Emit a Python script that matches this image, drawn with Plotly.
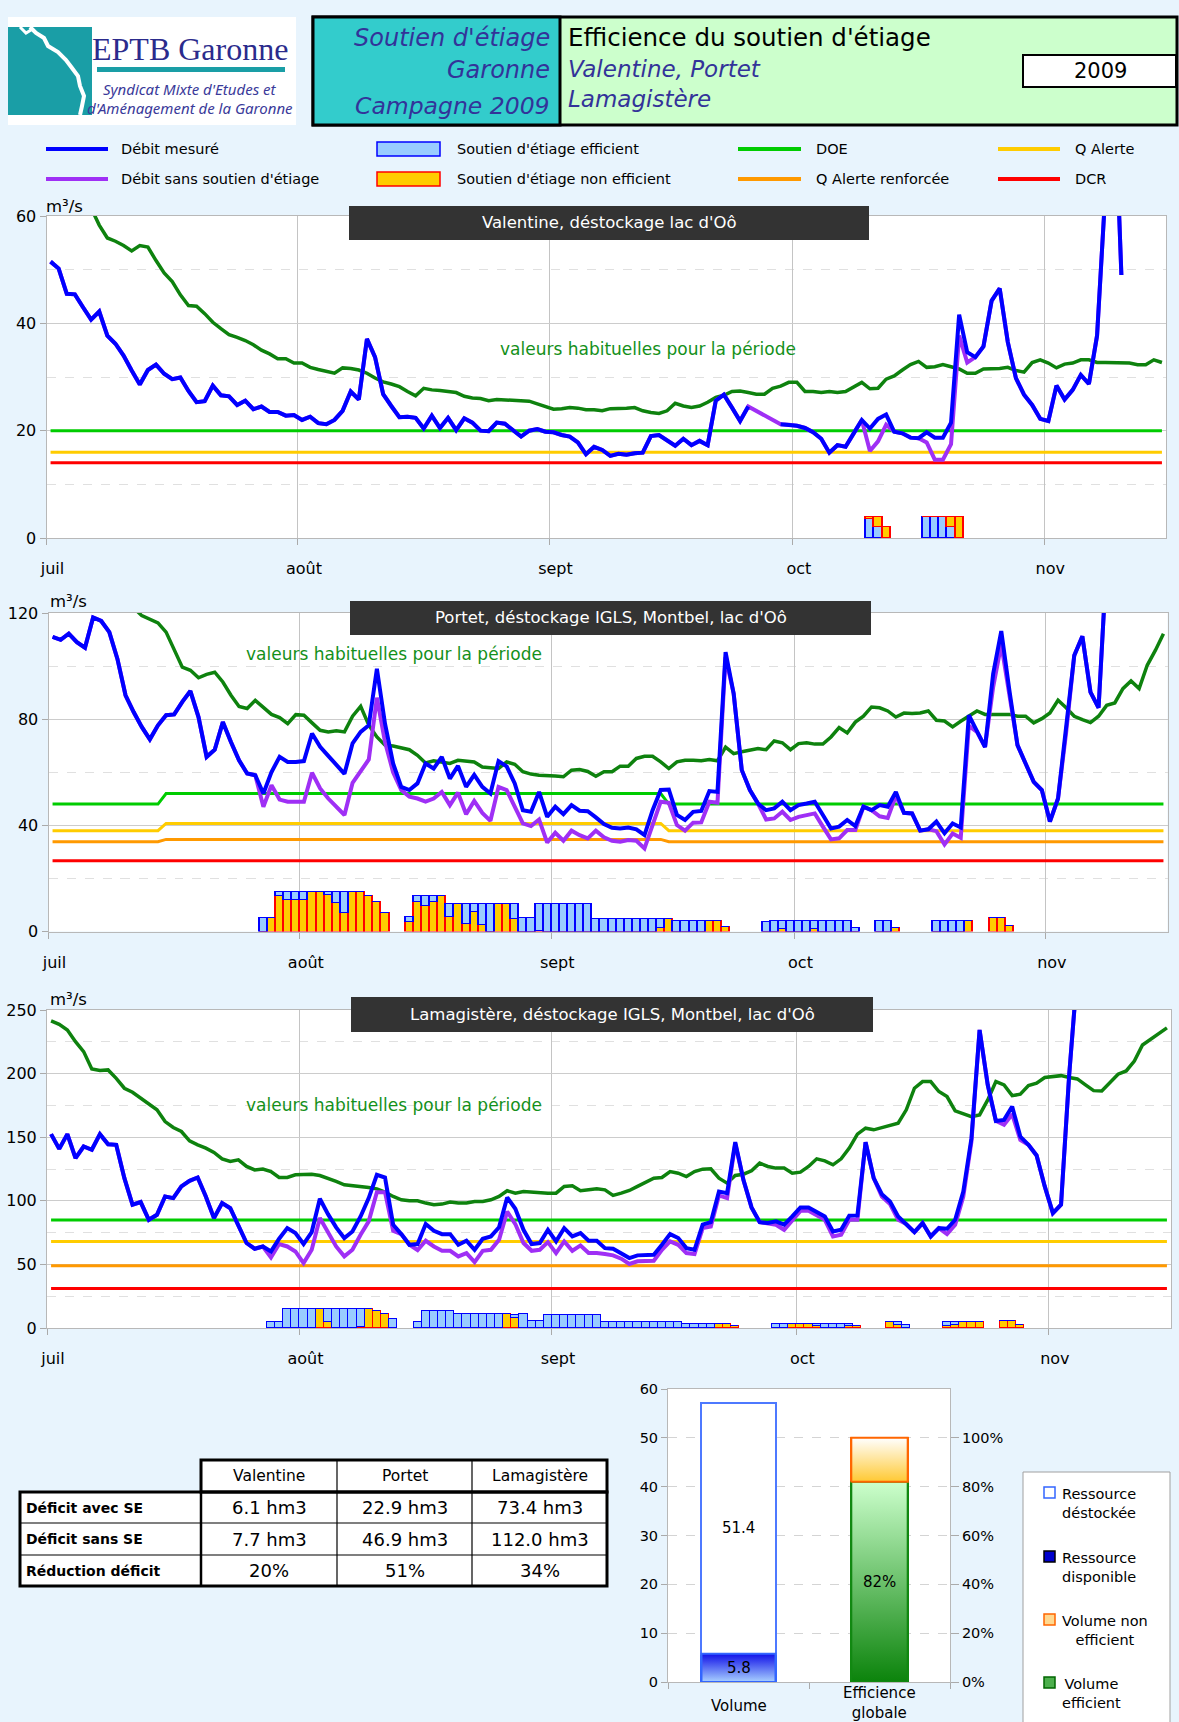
import plotly.graph_objects as go

W, H = 1179, 1722
FONT = "DejaVu Sans"
FONT2 = "Noto Sans"
BG = "#e8f4fd"


def X(p):
    return p / W


def Y(p):
    return 1 - p / H


MONTHS = ["juil", "août", "sept", "oct", "nov"]
MONTH_FIRST_DAY = [0, 31, 62, 92, 123]
N_DAYS = 138

# ---------------- Valentine (m3/s), day 0 = 1 July ----------------
V_MEAS = [51.5, 50.2, 45.5, 45.4, 43.0, 40.7, 42.2, 37.7, 36.2, 34.0,
          31.2, 28.6, 31.3, 32.3, 30.6, 29.6, 29.9, 27.4, 25.3, 25.5,
          28.4, 26.6, 26.4, 24.8, 25.6, 24.0, 24.5, 23.5, 23.5, 22.8,
          22.9, 22.0, 22.6, 21.4, 21.2, 22.0, 23.7, 27.3, 25.8, 37.1,
          33.7, 26.8, 24.6, 22.5, 22.6, 22.4, 20.4, 22.8, 20.5, 22.4,
          20.1, 22.3, 21.5, 20.0, 19.9, 21.5, 21.3, 20.2, 18.9, 20.0,
          20.3, 19.8, 19.7, 19.2, 18.9, 17.8, 15.6, 17.0, 16.4, 15.3,
          15.7, 15.5, 15.8, 15.9, 19.0, 19.2, 18.1, 17.2, 18.5, 17.3,
          18.1, 17.3, 25.6, 26.7, 24.3, 21.8, 24.5, None, None, None,
          21.2, 21.1, 20.9, 20.5, 19.7, 18.5, 15.9, 17.3, 17.0, 19.5,
          22.0, 20.4, 22.2, 23.0, 19.8, 19.5, 18.7, 18.6, 19.7, 18.7,
          18.7, 21.5, 41.6, 34.6, 33.7, 35.7, 44.2, 46.5, 36.5, 29.8,
          26.7, 24.8, 22.2, 21.8, 28.4, 25.8, 27.6, 30.4, 28.7, 37.7,
          70.0, 90.0, 49.0]
V_NAT = [51.5, 50.2, 45.5, 45.4, 43.0, 40.7, 42.2, 37.7, 36.2, 34.0,
         31.2, 28.6, 31.3, 32.3, 30.6, 29.6, 29.9, 27.4, 25.3, 25.5,
         28.4, 26.6, 26.4, 24.8, 25.6, 24.0, 24.5, 23.5, 23.5, 22.8,
         22.9, 22.0, 22.6, 21.4, 21.2, 22.0, 23.7, 27.3, 25.8, 37.1,
         33.7, 26.8, 24.6, 22.5, 22.6, 22.4, 20.4, 22.8, 20.5, 22.4,
         20.1, 22.3, 21.5, 20.0, 19.9, 21.5, 21.3, 20.2, 18.9, 20.0,
         20.3, 19.8, 19.7, 19.2, 18.9, 17.8, 15.6, 17.0, 16.4, 15.3,
         15.7, 15.5, 15.8, 15.9, 19.0, 19.2, 18.1, 17.2, 18.5, 17.3,
         18.1, 17.3, 25.6, 26.7, 24.3, 21.8, 24.5, 23.7, 22.9, 22.0,
         21.2, 21.1, 20.9, 20.5, 19.7, 18.5, 15.9, 17.3, 17.0, 19.5,
         22.0, 16.2, 18.0, 21.1, 19.8, 19.5, 18.7, 18.6, 17.8, 14.6,
         14.6, 17.5, 37.7, 32.7, 33.7, 35.7, 44.2, 46.5, 36.5, 29.8,
         26.7, 24.8, 22.2, 21.8, 28.4, 25.8, 27.6, 30.4, 28.7, 37.7,
         70.0, 90.0, 49.0]
V_HAB = [70.0, 68.0, 66.0, 65.0, 63.5, 61.5, 58.3, 55.9, 55.3, 54.5,
         53.5, 54.5, 54.2, 51.7, 49.4, 47.8, 45.3, 43.3, 43.2, 41.8,
         40.2, 39.0, 37.9, 37.4, 36.8, 36.0, 35.0, 34.3, 33.4, 33.4,
         32.6, 32.6, 31.8, 31.4, 31.0, 30.7, 31.7, 31.6, 31.3, 30.7,
         29.8, 29.1, 28.7, 28.2, 27.3, 26.5, 27.9, 27.6, 27.5, 27.3,
         27.1, 26.4, 26.1, 26.0, 25.6, 25.8, 25.7, 25.6, 25.5, 25.5,
         25.0, 24.5, 24.0, 24.1, 24.3, 24.2, 23.9, 23.9, 23.7, 24.1,
         24.1, 24.2, 24.3, 23.7, 23.4, 23.2, 23.7, 25.1, 24.6, 24.3,
         24.6, 25.3, 26.2, 26.6, 27.3, 27.4, 27.1, 26.8, 26.8, 27.9,
         28.3, 29.0, 29.0, 27.3, 27.3, 27.1, 27.3, 27.1, 27.3, 28.1,
         29.0, 27.8, 27.9, 29.6, 30.2, 31.3, 32.3, 32.9, 31.8, 31.9,
         32.3, 31.9, 31.5, 30.7, 30.7, 31.5, 31.5, 31.6, 31.8, 31.2,
         30.9, 32.7, 33.2, 32.6, 31.7, 32.4, 32.6, 33.2, 33.2, 32.7,
         32.7, 32.7, 32.6, 32.6, 32.3, 32.3, 33.2, 32.7]
V_DOE = [(0, 137, 20.0)]
V_QA = [(0, 137, 16.0)]
V_DCR = [(0, 137, 14.0)]
V_BAR_DAY = [101, 102, 103, 108, 109, 110, 111, 112]
V_BAR_EFF = [3.6, 2.0, 0.0, 4.0, 4.0, 4.0, 2.0, 0.0]
V_BAR_NON = [0.3, 2.0, 2.0, 0.0, 0.0, 0.0, 2.0, 4.0]

# ---------------- Portet ----------------
P_MEAS = [111.0, 109.9, 112.2, 109.0, 106.9, 118.3, 117.0, 112.8, 102.7, 89.0,
          82.7, 77.1, 72.4, 77.7, 81.5, 81.8, 86.5, 90.6, 80.8, 65.8,
          68.5, 78.9, 71.4, 64.5, 59.5, 58.9, 52.0, 60.1, 65.8, 63.9,
          63.9, 64.2, 74.6, 69.6, 66.2, 62.7, 59.4, 70.9, 75.2, 77.7,
          99.0, 78.3, 63.3, 54.5, 53.3, 55.8, 63.3, 61.4, 65.8, 57.6,
          62.4, 54.5, 59.0, 54.5, 52.0, 64.2, 62.2, 55.8, 45.7, 45.1,
          52.6, 43.2, 47.0, 44.2, 47.6, 45.5, 45.3, 43.0, 40.5, 39.1,
          38.8, 39.2, 38.5, 36.3, 45.7, 53.3, 53.5, 43.9, 42.0, 45.1,
          45.4, 52.9, 52.6, 105.3, 89.6, 60.8, 53.3, 48.2, 45.7, 46.4,
          48.9, 45.7, 47.6, 48.2, 48.9, 43.9, 38.8, 39.5, 42.0, 39.7,
          47.0, 45.7, 47.6, 47.0, 52.6, 44.7, 44.5, 38.0, 38.5, 41.4,
          37.0, 40.7, 39.2, 81.5, 75.2, 69.5, 97.1, 113.2, 90.9, 70.2,
          63.3, 56.4, 53.3, 41.4, 50.1, 77.0, 104.0, 111.2, 90.2, 84.3,
          140.0]
P_NAT = [111.0, 109.9, 112.2, 109.0, 106.9, 118.3, 117.0, 112.8, 102.7, 89.0,
         82.7, 77.1, 72.4, 77.7, 81.5, 81.8, 86.5, 90.6, 80.8, 65.8,
         68.5, 78.9, 71.4, 64.5, 59.5, 58.9, 47.0, 55.1, 49.7, 48.9,
         48.9, 48.9, 59.8, 53.9, 50.1, 47.0, 43.9, 56.0, 60.2, 64.8,
         88.1, 71.4, 60.0, 53.3, 50.8, 50.1, 48.9, 50.1, 52.6, 47.6,
         52.3, 44.2, 49.2, 44.7, 41.7, 54.5, 53.3, 47.2, 40.7, 39.7,
         42.2, 33.5, 37.2, 34.2, 38.0, 36.3, 35.1, 38.0, 35.5, 34.2,
         33.8, 34.5, 34.2, 31.3, 40.7, 48.9, 48.5, 40.1, 38.0, 41.0,
         41.1, 48.9, 48.5, 103.4, 89.6, 60.8, 53.3, 48.2, 42.2, 42.6,
         45.1, 42.0, 43.2, 43.9, 44.5, 39.5, 34.7, 35.1, 38.2, 38.2,
         47.0, 45.7, 43.4, 42.8, 51.1, 44.7, 44.5, 38.0, 38.5, 37.8,
         32.8, 36.9, 35.3, 77.5, 75.2, 69.5, 92.1, 108.2, 88.9, 70.2,
         63.3, 56.4, 53.3, 41.4, 50.1, 75.0, 104.0, 111.2, 90.2, 84.3,
         140.0]
P_HAB = [140.0, 138.0, 137.0, 136.0, 134.0, 132.0, 130.0, 128.0, 126.0, 124.0,
         122.0, 119.0, 117.8, 116.3, 112.8, 106.5, 99.6, 98.4, 95.6, 96.9,
         97.7, 94.0, 89.0, 84.8, 84.0, 87.1, 84.6, 81.8, 80.6, 78.3,
         81.7, 81.5, 78.6, 75.8, 75.2, 75.6, 75.2, 81.1, 84.8, 77.7,
         73.3, 70.2, 69.9, 69.3, 68.5, 66.4, 63.5, 64.3, 63.9, 63.3,
         64.5, 64.3, 63.9, 62.0, 61.8, 61.4, 63.9, 63.0, 60.2, 59.3,
         58.9, 58.9, 58.6, 58.3, 60.8, 61.0, 60.3, 58.5, 60.2, 60.2,
         62.3, 62.3, 65.2, 66.0, 66.0, 63.9, 61.4, 63.9, 64.5, 64.5,
         64.3, 64.8, 64.3, 69.5, 67.0, 67.7, 68.3, 68.9, 68.5, 71.8,
         71.1, 68.5, 70.8, 71.1, 70.6, 70.6, 73.3, 76.8, 74.8, 78.9,
         81.1, 84.6, 84.3, 83.1, 80.8, 82.3, 82.1, 82.3, 83.1, 79.6,
         79.3, 77.1, 79.2, 81.1, 83.1, 81.8, 81.8, 82.1, 81.8, 81.1,
         81.1, 78.6, 80.2, 82.3, 87.1, 84.3, 81.1, 79.8, 78.7, 81.1,
         85.2, 86.1, 91.5, 94.4, 91.5, 100.3, 105.9, 112.2]
P_DOE = [(0, 13, 48.0), (14, 75, 52.0), (76, 137, 48.0)]
P_QA = [(0, 13, 38.0), (14, 75, 40.7), (76, 137, 38.0)]
P_QAR = [(0, 13, 33.8), (14, 75, 34.7), (76, 137, 33.8)]
P_DCR = [(0, 137, 26.7)]
P_BAR_DAY = [26, 27, 28, 29, 30, 31, 32, 33, 34, 35, 36, 37, 38, 39, 40, 41,
             44, 45, 46, 47, 48, 49, 50, 51, 52, 53, 54, 55, 56, 57, 58, 59,
             60, 61, 62, 63, 64, 65, 66, 67, 68, 69, 70, 71, 72, 73, 74, 75,
             76, 77, 78, 79, 80, 81, 82, 83,
             88, 89, 90, 91, 92, 93, 94, 95, 96, 97, 98, 99,
             102, 103, 104, 109, 110, 111, 112, 113, 116, 117, 118]
P_BAR_EFF = [5.0, 0.0, 1.8, 3.1, 3.1, 3.1, 0.0, 0.0, 1.2, 4.3, 7.9, 0.0, 0.0, 0.0, 0.0, 0.0,
             1.8, 2.2, 3.5, 2.2, 0.0, 4.7, 0.0, 7.4, 2.8, 7.8, 10.3, 0.0, 0.0, 5.6, 5.0, 5.0,
             10.0, 10.3, 10.3, 10.3, 10.3, 10.3, 10.3, 4.6, 4.6, 4.6, 4.6, 4.6, 4.6, 4.6, 4.6, 3.2,
             0.0, 3.8, 3.8, 3.8, 3.8, 0.0, 0.0, 0.0,
             3.5, 4.0, 3.0, 4.0, 4.0, 4.0, 3.2, 4.0, 4.0, 4.0, 4.0, 1.5,
             4.0, 4.0, 0.0, 4.0, 4.0, 4.0, 4.0, 0.0, 0.0, 0.0, 0.0]
P_BAR_NON = [0.0, 5.0, 13.2, 11.9, 11.9, 11.9, 15.0, 15.0, 13.8, 10.7, 7.1, 15.0, 15.0, 13.2, 11.0, 6.9,
             3.5, 11.0, 9.7, 11.0, 13.2, 5.6, 10.3, 2.9, 7.5, 2.5, 0.0, 10.3, 10.3, 4.7, 0.0, 0.0,
             0.3, 0.0, 0.0, 0.0, 0.0, 0.0, 0.0, 0.0, 0.0, 0.0, 0.0, 0.0, 0.0, 0.0, 0.0, 1.4,
             4.6, 0.0, 0.0, 0.0, 0.0, 3.8, 3.8, 1.6,
             0.0, 0.0, 1.0, 0.0, 0.0, 0.0, 0.8, 0.0, 0.0, 0.0, 0.0, 0.0,
             0.0, 0.0, 1.5, 0.0, 0.0, 0.0, 0.0, 4.0, 5.0, 5.0, 2.0]

# ---------------- Lamagistère ----------------
L_MEAS = [152.4, 140.8, 152.4, 133.5, 142.7, 140.1, 152.4, 144.5, 144.0, 117.8,
          96.9, 99.0, 85.1, 89.0, 103.4, 102.1, 111.3, 115.7, 118.3, 103.4,
          86.4, 98.2, 94.2, 79.8, 66.8, 62.3, 64.1, 60.2, 70.2, 78.5,
          74.6, 66.0, 75.4, 101.6, 89.5, 79.1, 70.7, 75.9, 87.7, 102.1,
          120.4, 118.3, 81.2, 73.8, 65.4, 66.0, 81.7, 76.4, 73.8, 73.8,
          65.4, 68.6, 61.5, 70.2, 72.0, 79.1, 102.6, 93.7, 77.2, 66.0,
          66.8, 77.2, 68.1, 78.5, 72.0, 74.6, 68.6, 68.6, 62.8, 62.3,
          58.9, 55.0, 57.1, 57.6, 57.6, 65.4, 73.8, 70.7, 62.8, 61.5,
          81.2, 83.2, 107.3, 106.0, 146.1, 116.5, 94.8, 83.2, 82.5, 83.8,
          81.2, 87.7, 94.8, 94.8, 91.6, 87.7, 75.9, 77.2, 88.2, 88.5,
          146.1, 117.8, 105.2, 99.5, 87.7, 81.7, 75.4, 82.5, 72.0, 78.5,
          78.0, 85.1, 107.3, 149.2, 234.3, 191.1, 162.8, 163.6, 174.1, 150.5,
          144.0, 135.6, 111.3, 90.3, 96.9, 199.0, 280.0]
L_NAT = [152.4, 140.8, 152.4, 133.5, 142.7, 140.1, 152.4, 144.5, 144.0, 117.8,
         96.9, 99.0, 85.1, 89.0, 103.4, 102.1, 111.3, 115.7, 118.3, 103.4,
         86.4, 98.2, 94.2, 79.8, 66.8, 62.3, 64.1, 55.5, 66.0, 64.1,
         60.2, 51.0, 61.5, 86.4, 75.4, 64.1, 56.3, 61.5, 73.3, 83.8,
         106.8, 106.8, 76.4, 73.8, 65.4, 61.3, 68.6, 64.1, 60.7, 60.7,
         56.3, 58.9, 51.8, 60.7, 61.5, 69.4, 91.6, 81.7, 66.8, 60.7,
         61.5, 67.5, 58.9, 68.1, 60.7, 64.9, 58.9, 58.9, 58.1, 57.1,
         54.5, 50.3, 52.4, 52.9, 52.9, 61.5, 68.1, 65.4, 58.9, 58.1,
         78.5, 79.8, 104.2, 102.1, 144.8, 116.5, 94.8, 83.2, 82.5, 81.2,
         77.2, 85.1, 92.1, 92.1, 89.0, 85.1, 72.0, 73.3, 85.1, 85.1,
         146.1, 117.8, 103.4, 97.4, 85.1, 81.7, 75.4, 82.5, 72.0, 78.5,
         73.8, 81.2, 103.4, 146.6, 234.3, 191.1, 162.8, 159.7, 168.1, 147.9,
         144.0, 135.6, 111.3, 90.3, 96.9, 199.0, 280.0]
L_HAB = [241.4, 238.7, 234.3, 225.1, 217.3, 203.7, 202.4, 202.9, 196.3, 188.5,
         185.3, 180.6, 175.9, 171.5, 162.3, 157.6, 154.5, 147.1, 144.0, 141.4,
         138.0, 133.0, 130.9, 132.2, 127.0, 124.3, 124.9, 123.0, 118.3, 118.3,
         120.4, 120.4, 120.9, 119.9, 117.8, 115.2, 112.6, 112.0, 111.3, 110.5,
         109.4, 106.8, 103.4, 100.8, 100.0, 100.0, 98.2, 96.9, 97.4, 99.0,
         98.2, 98.2, 99.5, 99.5, 100.8, 103.4, 107.9, 106.0, 107.3, 106.8,
         106.0, 106.0, 106.0, 111.3, 111.8, 107.9, 108.6, 109.4, 108.6, 104.2,
         106.0, 108.1, 111.3, 114.7, 117.8, 118.3, 123.0, 121.7, 119.1, 123.0,
         124.9, 125.1, 117.8, 113.9, 119.9, 120.9, 123.6, 129.6, 127.0, 125.7,
         125.7, 121.7, 122.5, 127.0, 133.0, 131.4, 128.3, 133.0, 141.4, 152.4,
         157.1, 155.8, 157.6, 159.2, 161.0, 171.5, 188.5, 193.7, 193.7, 185.9,
         181.9, 170.7, 168.1, 166.2, 167.5, 179.3, 193.7, 191.1, 182.7, 183.8,
         190.6, 192.4, 196.9, 197.6, 198.4, 196.9, 195.8, 191.1, 186.6, 186.4,
         193.2, 199.5, 202.1, 209.9, 222.5, 227.2, 231.7, 236.0]
L_DOE = [(0, 137, 85.0)]
L_QA = [(0, 137, 68.0)]
L_QAR = [(0, 137, 49.0)]
L_DCR = [(0, 137, 31.0)]
L_BAR_DAY = [27, 28, 29, 30, 31, 32, 33, 34, 35, 36, 37, 38, 39, 40, 41, 42,
             45, 46, 47, 48, 49, 50, 51, 52, 53, 54, 55, 56, 57, 58, 59, 60,
             61, 62, 63, 64, 65, 66, 67, 68, 69, 70, 71, 72, 73, 74, 75, 76, 77,
             78, 79, 80, 81, 82, 83, 84,
             89, 90, 91, 92, 93, 94, 95, 96, 97, 98, 99,
             103, 104, 105, 110, 111, 112, 113, 114, 117, 118, 119]
L_BAR_EFF = [4.7, 4.7, 15.2, 15.2, 15.2, 15.2, 0.0, 10.5, 15.2, 15.2, 15.2, 14.2, 0.0, 0.0, 0.0, 7.1,
             4.7, 13.1, 13.1, 13.1, 13.1, 11.0, 11.0, 11.0, 11.0, 11.0, 11.0, 0.0, 2.6, 11.0, 5.2, 5.2,
             10.3, 10.3, 10.3, 10.3, 10.3, 10.3, 10.3, 4.5, 4.5, 4.5, 4.5, 4.5, 4.5, 4.5, 4.5, 4.5, 4.5,
             3.4, 3.4, 3.4, 3.4, 0.0, 0.0, 0.0,
             3.4, 3.4, 0.0, 0.0, 0.0, 2.0, 3.4, 3.4, 3.4, 2.0, 0.0,
             0.0, 2.5, 2.0, 3.5, 2.5, 0.0, 0.0, 0.0, 0.0, 0.0, 0.0]
L_BAR_NON = [0.0, 0.0, 0.0, 0.0, 0.0, 0.0, 15.2, 4.7, 0.0, 0.0, 0.0, 1.0, 15.2, 13.1, 11.3, 0.0,
             0.0, 0.0, 0.0, 0.0, 0.0, 0.0, 0.0, 0.0, 0.0, 0.0, 0.0, 11.0, 7.9, 0.0, 0.0, 0.0,
             0.0, 0.0, 0.0, 0.0, 0.0, 0.0, 0.0, 0.0, 0.0, 0.0, 0.0, 0.0, 0.0, 0.0, 0.0, 0.0, 0.0,
             0.0, 0.0, 0.0, 0.0, 3.4, 3.4, 1.3,
             0.0, 0.0, 3.4, 3.4, 3.4, 1.4, 0.0, 0.0, 0.0, 1.4, 1.4,
             4.7, 2.2, 0.0, 1.2, 2.2, 4.7, 4.7, 4.7, 5.8, 5.8, 2.6]

# ---------------- Summary ----------------
TABLE_HEADER = ["Valentine", "Portet", "Lamagistère"]
TABLE_ROWS = ["Déficit avec SE", "Déficit sans SE", "Réduction déficit"]
TABLE_VALENTINE = ["6.1 hm3", "7.7 hm3", "20%"]
TABLE_PORTET = ["22.9 hm3", "46.9 hm3", "51%"]
TABLE_LAMAGISTERE = ["73.4 hm3", "112.0 hm3", "34%"]

VOL_CAT = ["Volume"]
VOL_DISPONIBLE = [5.8]
VOL_DESTOCKEE = [51.4]
EFF_CAT = ["Efficience globale"]
EFF_OUI = [0.82]
EFF_NON = [0.18]

# ---------------- colours ----------------
C_BLUE = "#0000ff"
C_PURPLE = "#9f2ff5"
C_HAB = "#0e820e"
C_DOE = "#00cc00"
C_QA = "#ffcc00"
C_QAR = "#ff9900"
C_DCR = "#ff0000"
C_EFF_FILL, C_EFF_LINE = "#99ccff", "#0000ff"
C_NON_FILL, C_NON_LINE = "#ffcc00", "#ff0000"


def steps(segs):
    out = []
    for a, b, v in segs:
        out += [v] * (b - a + 1)
    return out


fig = go.Figure()
days = list(range(N_DAYS))

panels = [
    dict(x="x", y="y", meas=V_MEAS, nat=V_NAT, hab=V_HAB, eff_first=True,
         thr=[(V_DCR, C_DCR), (V_QA, C_QA), (V_DOE, C_DOE)],
         bd=V_BAR_DAY, be=V_BAR_EFF, bn=V_BAR_NON),
    dict(x="x2", y="y2", meas=P_MEAS, nat=P_NAT, hab=P_HAB, eff_first=False,
         thr=[(P_DCR, C_DCR), (P_QAR, C_QAR), (P_QA, C_QA), (P_DOE, C_DOE)],
         bd=P_BAR_DAY, be=P_BAR_EFF, bn=P_BAR_NON),
    dict(x="x3", y="y3", meas=L_MEAS, nat=L_NAT, hab=L_HAB, eff_first=False,
         thr=[(L_DCR, C_DCR), (L_QAR, C_QAR), (L_QA, C_QA), (L_DOE, C_DOE)],
         bd=L_BAR_DAY, be=L_BAR_EFF, bn=L_BAR_NON),
]

for p in panels:
    for segs, col in p["thr"]:
        vals = steps(segs)
        fig.add_trace(go.Scatter(x=days[:len(vals)], y=vals, mode="lines",
                                 line=dict(color=col, width=3), xaxis=p["x"], yaxis=p["y"]))
    bar_non = go.Bar(x=p["bd"], y=p["bn"], width=1.0, xaxis=p["x"], yaxis=p["y"],
                     marker=dict(color=C_NON_FILL, line=dict(color=C_NON_LINE, width=1.5)))
    bar_eff = go.Bar(x=p["bd"], y=p["be"], width=1.0, xaxis=p["x"], yaxis=p["y"],
                     marker=dict(color=C_EFF_FILL, line=dict(color=C_EFF_LINE, width=1.5)))
    for b in ([bar_eff, bar_non] if p["eff_first"] else [bar_non, bar_eff]):
        fig.add_trace(b)
    fig.add_trace(go.Scatter(x=days[:len(p["hab"])], y=p["hab"], mode="lines",
                             line=dict(color=C_HAB, width=3.5), xaxis=p["x"], yaxis=p["y"]))
    fig.add_trace(go.Scatter(x=days[:len(p["nat"])], y=p["nat"], mode="lines",
                             line=dict(color=C_PURPLE, width=4), xaxis=p["x"], yaxis=p["y"]))
    fig.add_trace(go.Scatter(x=days[:len(p["meas"])], y=p["meas"], mode="lines",
                             line=dict(color=C_BLUE, width=4), xaxis=p["x"], yaxis=p["y"]))

# ---------------- summary bar chart ----------------
CLEAR = "rgba(0,0,0,0)"
VOL_W, EFF_W = 0.525, 0.40
fig.add_trace(go.Bar(x=VOL_CAT, y=VOL_DISPONIBLE, width=VOL_W, xaxis="x4", yaxis="y4",
                     marker=dict(color=CLEAR, line=dict(color="#3366ff", width=2))))
fig.add_trace(go.Bar(x=VOL_CAT, y=VOL_DESTOCKEE, width=VOL_W, xaxis="x4", yaxis="y4",
                     marker=dict(color="white", line=dict(color="#4d79ff", width=2))))
fig.add_trace(go.Bar(x=EFF_CAT, y=EFF_OUI, width=EFF_W, xaxis="x4", yaxis="y5",
                     marker=dict(color=CLEAR, line=dict(color="#118811", width=2))))
fig.add_trace(go.Bar(x=EFF_CAT, y=EFF_NON, width=EFF_W, xaxis="x4", yaxis="y5",
                     marker=dict(color=CLEAR, line=dict(color="#ff6600", width=2))))


def gradient_fill(ci, w, y0, y1, yaxis, c_bottom, c_top, edge):
    # shaded fill of one stacked segment, placed on the same scale as the bar
    fig.add_trace(go.Scatter(
        x=[ci - w / 2, ci + w / 2, ci + w / 2, ci - w / 2, ci - w / 2],
        y=[y0, y0, y1, y1, y0], mode="lines", fill="toself", xaxis="x5", yaxis=yaxis,
        line=dict(color=edge, width=2),
        fillgradient=dict(type="vertical", start=y0, stop=y1,
                          colorscale=[[0, c_bottom], [1, c_top]])))


gradient_fill(0, VOL_W, 0, VOL_DISPONIBLE[0], "y4", "#a8d0ff", "#1010e8", "#3366ff")
gradient_fill(1, EFF_W, 0, EFF_OUI[0], "y5", "#0b830b", "#ccffcc", "#118811")
gradient_fill(1, EFF_W, EFF_OUI[0], EFF_OUI[0] + EFF_NON[0], "y5", "#ffc933", "#ffffff", "#ff6600")

# ---------------- axes ----------------
tickfont = dict(family=FONT, size=16, color="black")
xdoms = [(46.5, 1166), (48.5, 1167.5), (47, 1171)]
ydoms = [(216, 538), (613, 931.5), (1010, 1328)]
yranges = [(0, 60, 20, 10), (0, 120, 40, 20), (0, 250, 50, 25)]
lay = {}
for i in range(3):
    sx = "xaxis" if i == 0 else f"xaxis{i + 1}"
    sy = "yaxis" if i == 0 else f"yaxis{i + 1}"
    anchor_y = "y" if i == 0 else f"y{i + 1}"
    anchor_x = "x" if i == 0 else f"x{i + 1}"
    lay[sx] = dict(domain=[X(xdoms[i][0]), X(xdoms[i][1])], anchor=anchor_y,
                   range=[-0.5, N_DAYS - 0.5], tickmode="array",
                   tickvals=[d - 0.5 for d in MONTH_FIRST_DAY], ticktext=MONTHS,
                   showgrid=True, gridcolor="#c4c4c4", gridwidth=1,
                   ticks="outside", ticklen=6, tickcolor="#aaaaaa",
                   showline=True, linecolor="#b8b8b8", mirror=True, zeroline=False,
                   tickfont=tickfont, ticklabelshift=6, ticklabelstandoff=10,
                   automargin=False, fixedrange=True)
    lo, hi, dt, mdt = yranges[i]
    lay[sy] = dict(domain=[Y(ydoms[i][1]), Y(ydoms[i][0])], anchor=anchor_x,
                   range=[lo, hi], dtick=dt, tick0=0,
                   showgrid=True, gridcolor="#cccccc", gridwidth=1,
                   minor=dict(dtick=mdt, tick0=0, showgrid=True, gridcolor="#e0e0e0",
                              griddash="dash", ticks=""),
                   ticks="outside", ticklen=6, tickcolor="#aaaaaa",
                   showline=True, linecolor="#b8b8b8", mirror=True, zeroline=False,
                   tickfont=tickfont, automargin=False, fixedrange=True)

lay["xaxis4"] = dict(domain=[X(668), X(950)], anchor="y4", type="category",
                     categoryorder="array", categoryarray=VOL_CAT + EFF_CAT,
                     range=[-0.5, 1.5], showticklabels=False, ticks="outside",
                     tickson="boundaries", ticklen=6, tickcolor="#aaaaaa",
                     showline=True, linecolor="#b8b8b8", mirror=True,
                     automargin=False, fixedrange=True)
lay["xaxis5"] = dict(overlaying="x4", anchor="y4", range=[-0.5, 1.5], visible=False,
                     automargin=False, fixedrange=True)
lay["yaxis4"] = dict(domain=[Y(1682), Y(1389)], anchor="x4", range=[0, 60], dtick=10,
                     showgrid=True, gridcolor="#d4d4d4", griddash="dash",
                     ticks="outside", ticklen=6, tickcolor="#aaaaaa",
                     showline=True, linecolor="#b8b8b8", zeroline=False,
                     tickfont=dict(family=FONT, size=14.5, color="black"),
                     automargin=False, fixedrange=True)
lay["yaxis5"] = dict(overlaying="y4", side="right", anchor="x4", range=[0, 1.2],
                     tickvals=[0, 0.2, 0.4, 0.6, 0.8, 1.0], tickformat=".0%",
                     showgrid=False, ticks="outside", ticklen=8, tickcolor="#aaaaaa",
                     showline=True, linecolor="#b8b8b8", zeroline=False,
                     tickfont=dict(family=FONT, size=14.5, color="black"),
                     automargin=False, fixedrange=True)

shapes = []
ann = []


def rect(x0, y0, x1, y1, fill, line="rgba(0,0,0,0)", lw=0, layer="above"):
    shapes.append(dict(type="rect", xref="paper", yref="paper", x0=X(x0), x1=X(x1),
                       y0=Y(y1), y1=Y(y0), fillcolor=fill, line=dict(color=line, width=lw),
                       layer=layer))


def hline(x0, x1, y, color, lw):
    shapes.append(dict(type="line", xref="paper", yref="paper", x0=X(x0), x1=X(x1),
                       y0=Y(y), y1=Y(y), line=dict(color=color, width=lw)))


def vline(x, y0, y1, color, lw):
    shapes.append(dict(type="line", xref="paper", yref="paper", x0=X(x), x1=X(x),
                       y0=Y(y0), y1=Y(y1), line=dict(color=color, width=lw)))


def text(x, y, s, size=15, color="black", xa="left", italic=False, family=FONT, ya="middle"):
    ann.append(dict(x=X(x), y=Y(y), xref="paper", yref="paper", text=s, showarrow=False,
                    xanchor=xa, yanchor=ya,
                    font=dict(family=family, size=size, color=color,
                              style="italic" if italic else "normal")))


# ---- header: logo ----
rect(8, 17, 296, 125, "white")
rect(8, 27, 92, 115, "#1a9ea6")
river = [(30, 27), (36, 33), (44, 38), (48, 46), (58, 52), (66, 60), (72, 68), (78, 76),
         (80, 86), (84, 96), (82, 106), (80, 115)]
path = "M " + " L ".join(f"{X(a)},{Y(b)}" for a, b in river)
shapes.append(dict(type="path", xref="paper", yref="paper", path=path,
                   line=dict(color="white", width=4)))
shapes.append(dict(type="path", xref="paper", yref="paper",
                   path=f"M {X(20)},{Y(27)} L {X(26)},{Y(33)} L {X(31)},{Y(30)}",
                   line=dict(color="white", width=3)))
text(190, 49, "EPTB Garonne", size=32, color="#2b2b8c", xa="center", family="Liberation Serif")
rect(97, 67, 285, 72, "#1a9ea6")
text(190, 89, "Syndicat Mixte d'Etudes et", size=15, color="#3a3a9a", xa="center",
     italic=True, family=FONT2)
text(190, 108, "d'Aménagement de la Garonne", size=15, color="#3a3a9a", xa="center",
     italic=True, family=FONT2)

# ---- header: title block ----
rect(313, 17, 1177, 125, "#ccffcc", "black", 3)
rect(313, 17, 560, 125, "#33cccc", "black", 3)
text(552, 38, "Soutien d'étiage", size=24, color="#333399", xa="right", italic=True)
text(552, 70, "Garonne", size=24, color="#333399", xa="right", italic=True)
text(552, 106, "Campagne 2009", size=23.5, color="#333399", xa="right", italic=True)
text(566, 37, "Efficience du soutien d'étiage", size=24.5, color="black")
text(566, 69, "Valentine, Portet", size=23, color="#333399", italic=True)
text(566, 99, "Lamagistère", size=23, color="#333399", italic=True)
rect(1023, 55, 1176, 87, "white", "black", 2)
text(1100, 71, "2009", size=21, xa="center")

# ---- legend ----
R1, R2 = 149, 179
LG = 14.5
hline(46, 108, R1, C_BLUE, 4)
text(119, R1, "Débit mesuré", size=LG)
hline(46, 108, R2, C_PURPLE, 4)
text(119, R2, "Débit sans soutien d'étiage", size=LG)
rect(377, R1 - 7, 440, R1 + 7, C_EFF_FILL, C_EFF_LINE, 1.5)
text(455, R1, "Soutien d'étiage efficient", size=LG)
rect(377, R2 - 7, 440, R2 + 7, C_NON_FILL, C_NON_LINE, 1.5)
text(455, R2, "Soutien d'étiage non efficient", size=LG)
hline(738, 801, R1, C_DOE, 4)
text(814, R1, "DOE", size=LG)
hline(738, 801, R2, C_QAR, 4)
text(814, R2, "Q Alerte renforcée", size=LG)
hline(998, 1060, R1, C_QA, 4)
text(1073, R1, "Q Alerte", size=LG)
hline(998, 1060, R2, C_DCR, 4)
text(1073, R2, "DCR", size=LG)

# ---- panel titles ----
panel_titles = ["Valentine, déstockage lac d'Oô",
                "Portet, déstockage IGLS, Montbel, lac d'Oô",
                "Lamagistère, déstockage IGLS, Montbel, lac d'Oô"]
title_boxes = [(349, 206, 869, 240), (350, 601, 871, 635), (351, 997, 873, 1032)]
unit_pos = [(44, 206), (48, 601), (48, 999)]
hab_pos = [(648, 349), (394, 654), (394, 1105)]
for t, (x0, y0, x1, y1), (ux, uy), (hx, hy) in zip(panel_titles, title_boxes, unit_pos, hab_pos):
    rect(x0, y0, x1, y1, "#333333")
    text((x0 + x1) / 2, (y0 + y1) / 2, t, size=16.5, color="white", xa="center")
    text(ux, uy, "m³/s", size=16.5)
    text(hx, hy, "valeurs habituelles pour la période", size=17, color="#14901a", xa="center")

# ---- summary table ----
TX = [20, 201, 337, 472, 607]
TY = [1460, 1492, 1523, 1555, 1586]
rect(TX[1], TY[0], TX[4], TY[1], "white")
rect(TX[0], TY[1], TX[4], TY[4], "white")
for xv in TX[2:4]:
    vline(xv, TY[0], TY[4], "black", 1.2)
vline(TX[1], TY[1], TY[4], "black", 2.5)
for yv in TY[2:4]:
    hline(TX[0], TX[4], yv, "black", 1.2)
rect(TX[1], TY[0], TX[4], TY[1], "rgba(0,0,0,0)", "black", 3)
rect(TX[0], TY[1], TX[4], TY[4], "rgba(0,0,0,0)", "black", 3)
for j, name in enumerate(TABLE_HEADER):
    text((TX[j + 1] + TX[j + 2]) / 2, (TY[0] + TY[1]) / 2, name, size=15.5, xa="center")
for i, lab in enumerate(TABLE_ROWS):
    cy = (TY[i + 1] + TY[i + 2]) / 2
    text(TX[0] + 4, cy, f"<b>{lab}</b>", size=14)
    for j, col in enumerate([TABLE_VALENTINE, TABLE_PORTET, TABLE_LAMAGISTERE]):
        text((TX[j + 1] + TX[j + 2]) / 2, cy, col[i], size=18, xa="center")

# ---- summary chart labels ----
lblfont = dict(family=FONT, size=15, color="black")
ann.append(dict(x=VOL_CAT[0], y=VOL_DISPONIBLE[0] / 2, xref="x4", yref="y4",
                text=f"{VOL_DISPONIBLE[0]:.1f}", showarrow=False, font=lblfont,
                xanchor="center", yanchor="middle"))
ann.append(dict(x=VOL_CAT[0], y=VOL_DISPONIBLE[0] + VOL_DESTOCKEE[0] / 2, xref="x4", yref="y4",
                text=f"{VOL_DESTOCKEE[0]:.1f}", showarrow=False, font=lblfont,
                xanchor="center", yanchor="middle"))
ann.append(dict(x=EFF_CAT[0], y=EFF_OUI[0] / 2, xref="x4", yref="y5",
                text=f"{EFF_OUI[0]:.0%}", showarrow=False, font=lblfont,
                xanchor="center", yanchor="middle"))
ann.append(dict(x=VOL_CAT[0], y=Y(1706), xref="x4", yref="paper", text="Volume",
                showarrow=False, yanchor="middle", xanchor="center", font=lblfont))
ann.append(dict(x=EFF_CAT[0], y=Y(1682), xref="x4", yref="paper", text="Efficience<br>globale",
                showarrow=False, yanchor="top", xanchor="center", font=lblfont))

# ---- summary legend ----
rect(1023, 1472, 1170, 1740, "white", "#a0a0a0", 1)
leg_items = [("Ressource<br>déstockée", "white", "#3366ff", 1503),
             ("Ressource<br>disponible", "#0000cc", "black", 1567),
             ("Volume non<br>efficient", "#ffd890", "#ff6600", 1630),
             ("Volume<br>efficient", "#4caf4c", "#006600", 1693)]
for lbl, fc, lc, cy in leg_items:
    rect(1044, cy - 16, 1055, cy - 5, fc, lc, 1.5)
    text(1060, cy, lbl, size=14.5)

fig.update_layout(**lay)
fig.update_layout(width=W, height=H,
                  margin=dict(l=0, r=0, t=0, b=0, pad=0, autoexpand=False),
                  paper_bgcolor=BG, plot_bgcolor="white", showlegend=False,
                  barmode="stack", bargap=0, hovermode=False,
                  shapes=shapes, annotations=ann, font=dict(family=FONT))

post = ("document.documentElement.style.background='#e8f4fd';"
        "document.body.style.margin='0px';")
fig.write_html("out.html", config={"displayModeBar": False}, post_script=post)
